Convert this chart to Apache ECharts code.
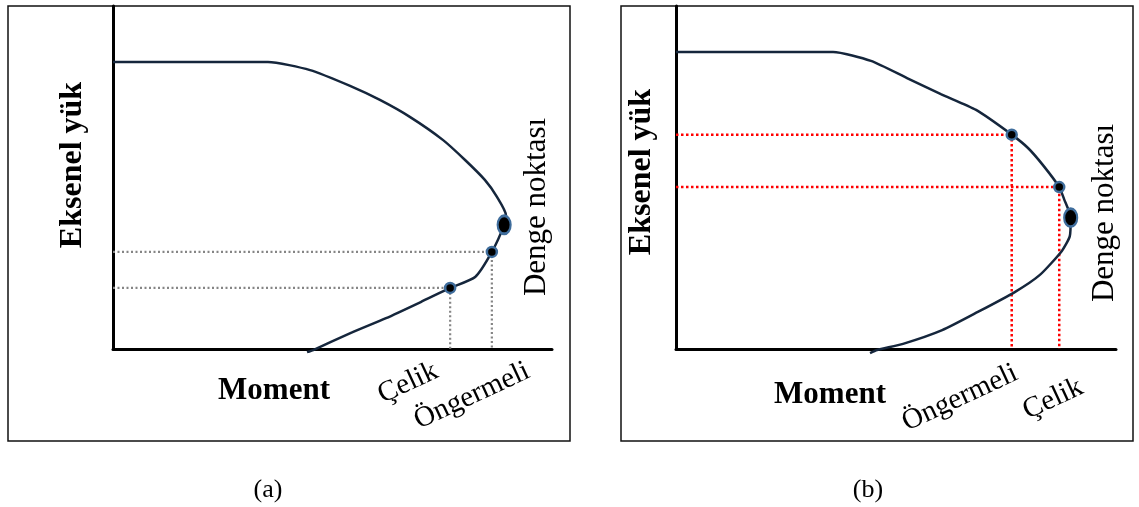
<!DOCTYPE html>
<html>
<head>
<meta charset="utf-8">
<script src="https://cdn.jsdelivr.net/npm/echarts@6/dist/echarts.min.js"></script>
<style>
html,body{margin:0;padding:0;background:#fff;}
#chart{width:1139px;height:507px;}
</style>
</head>
<body>
<div id="chart"></div>
<script>
// ---- Data (arbitrary units, 0..100 on both axes) ----
// Panel (a): interaction curve
const momentA = [0, 35.3, 44.9, 54.0, 60.8, 67.7, 75.2, 80.2, 84.7, 87.5, 89.5, 89.1, 86.3, 82.5, 76.8, 70.1, 62.2, 54.2, 45.6, 44.2];
const loadA   = [83.7, 83.7, 81.3, 76.7, 72.6, 67.6, 60.9, 55.1, 49.3, 44.3, 39.1, 36.2, 28.3, 21.0, 17.8, 13.7, 9.0, 4.7, -0.3, -0.9];
const dengeA = [89.1, 36.2];
const ongermeliA = [86.3, 28.3];
const celikA = [76.8, 17.8];

// Panel (b): interaction curve
const momentB = [0, 35.7, 44.3, 52.5, 60.2, 68.2, 76.3, 80.0, 83.4, 87.1, 88.2, 89.7, 89.5, 87.7, 82.7, 77.0, 68.6, 60.5, 51.6, 45.7, 44.1];
const loadB   = [86.6, 86.6, 84.0, 79.0, 74.3, 69.7, 62.5, 58.6, 53.6, 47.2, 43.7, 38.3, 32.9, 28.6, 21.6, 16.6, 10.8, 5.5, 1.5, -0.3, -1.2];
const dengeB = [89.7, 38.3];
const ongermeliB = [76.3, 62.5];
const celikB = [87.1, 47.2];

// Text labels
const yName = 'Eksenel yük';
const xName = 'Moment';
const dengeLabel = 'Denge noktası';
const celikLabel = 'Çelik';
const ongermeliLabel = 'Öngermeli';
const captions = ['(a)', '(b)'];

// ---- Build ----
const zip = (xs, ys) => xs.map((x, i) => [x, ys[i]]);
const guide = p => [[0, p[1]], [p[0], p[1]], [p[0], 0]];

const chart = echarts.init(document.getElementById('chart'), null, {renderer: 'canvas'});
const FONT = '"Liberation Serif", "Times New Roman", serif';

const axisBase = {
  type: 'value', min: 0, max: 100,
  axisLine: {show: true, onZero: false, lineStyle: {color: '#000', width: 3}},
  axisTick: {show: false}, axisLabel: {show: false}, splitLine: {show: false}
};

const curveStyle = {color: '#15263c', width: 2.5};
const dotStyle = {color: '#000', borderColor: '#3f6d9c', borderWidth: 2.5, opacity: 1};

function panelSeries(idx, moment, load, denge, onger, celik, guideColor, guideWidth, guideType) {
  return [
    {type: 'line', xAxisIndex: idx, yAxisIndex: idx, data: guide(celik), symbol: 'none', silent: true,
     lineStyle: {color: guideColor, width: guideWidth, type: guideType}, z: 2},
    {type: 'line', xAxisIndex: idx, yAxisIndex: idx, data: guide(onger), symbol: 'none', silent: true,
     lineStyle: {color: guideColor, width: guideWidth, type: guideType}, z: 2},
    {type: 'line', xAxisIndex: idx, yAxisIndex: idx, data: zip(moment, load), symbol: 'none', clip: false,
     smooth: 0.2, lineStyle: curveStyle, z: 3},
    {type: 'scatter', xAxisIndex: idx, yAxisIndex: idx, data: [onger, celik], symbolSize: 10,
     itemStyle: dotStyle, z: 4, silent: true},
    {type: 'scatter', xAxisIndex: idx, yAxisIndex: idx, data: [denge], symbolSize: [13, 18],
     itemStyle: dotStyle, z: 4, silent: true}
  ];
}

function txt(x, y, text, size, weight, rotDeg) {
  return {type: 'text', x: x, y: y, rotation: (rotDeg || 0) * Math.PI / 180, z: 10,
    style: {text: text, font: (weight || 'normal') + ' ' + size + 'px ' + FONT, fill: '#000',
      align: 'center', verticalAlign: 'middle'}};
}

const option = {
  animation: false,
  backgroundColor: '#fff',
  grid: [
    {left: 113, top: 6, width: 439, height: 343},
    {left: 676, top: 6, width: 440, height: 343}
  ],
  xAxis: [Object.assign({gridIndex: 0}, axisBase), Object.assign({gridIndex: 1}, axisBase)],
  yAxis: [Object.assign({gridIndex: 0}, axisBase), Object.assign({gridIndex: 1}, axisBase)],
  series: [].concat(
    panelSeries(0, momentA, loadA, dengeA, ongermeliA, celikA, '#858585', 2.2, [2, 2.5]),
    panelSeries(1, momentB, loadB, dengeB, ongermeliB, celikB, '#ff0000', 2.5, [2.5, 2.5])
  ),
  graphic: [
    {type: 'rect', shape: {x: 8, y: 6, width: 562, height: 435}, style: {fill: 'none', stroke: '#111', lineWidth: 1.5}, z: 0},
    {type: 'rect', shape: {x: 621, y: 6, width: 512, height: 435}, style: {fill: 'none', stroke: '#111', lineWidth: 1.5}, z: 0},
    txt(73, 165, yName, 32, 'bold', 90),
    txt(642, 172, yName, 32, 'bold', 90),
    txt(274, 391, xName, 31, 'bold'),
    txt(830, 395, xName, 31, 'bold'),
    txt(537, 207, dengeLabel, 31, 'normal', 90),
    txt(1105, 213, dengeLabel, 31, 'normal', 90),
    txt(408, 383, celikLabel, 29, 'normal', 25),
    txt(472, 396, ongermeliLabel, 29, 'normal', 25),
    txt(960, 398, ongermeliLabel, 29, 'normal', 25),
    txt(1053, 399, celikLabel, 29, 'normal', 25),
    txt(268, 490, captions[0], 26, 'normal'),
    txt(868, 490, captions[1], 26, 'normal')
  ]
};
chart.setOption(option);
</script>
</body>
</html>
